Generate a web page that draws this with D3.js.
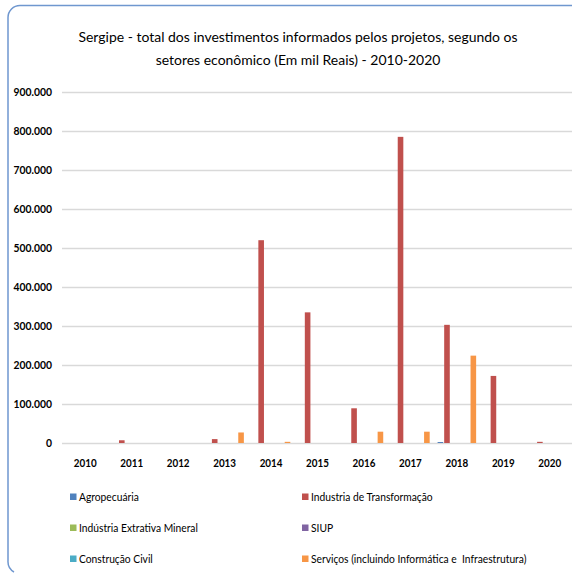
<!DOCTYPE html>
<html>
<head>
<meta charset="utf-8">
<script src="https://cdn.jsdelivr.net/npm/d3@7"></script>
<style>
  html, body { margin: 0; padding: 0; background: #fff; }
  svg { display: block; }
  text { font-family: Lato, "Liberation Sans", sans-serif; fill: #000; }
</style>
</head>
<body>
<svg id="chart" width="572" height="573"></svg>
<script>
// Years on the category axis
const years = ["2010","2011","2012","2013","2014","2015","2016","2017","2018","2019","2020"];

// Sector names (series), in legend order
const sectors = [
  "Agropecuária",
  "Industria de Transformação",
  "Indústria Extrativa Mineral",
  "SIUP",
  "Construção Civil",
  "Serviços (incluindo Informática e  Infraestrutura)"
];
const sectorColors = ["#4f81bd", "#c0504d", "#9bbb59", "#8064a2", "#4bacc6", "#f79646"];

// Investment totals per sector and year (thousand R$)
const agropecuaria    = [0, 0, 0, 0, 0, 0, 0, 0, 2500, 0, 0];
const industriaTransf = [0, 7000, 0, 10000, 520000, 335000, 89000, 785000, 303000, 172000, 3000];
const extrativa       = [0, 0, 0, 0, 0, 0, 0, 0, 0, 0, 0];
const siup            = [0, 0, 0, 0, 0, 0, 0, 0, 0, 0, 0];
const construcao      = [0, 0, 0, 0, 0, 0, 0, 0, 0, 0, 0];
const servicos        = [0, 0, 0, 27000, 3000, 0, 29000, 29000, 224000, 0, 0];

const seriesValues = [agropecuaria, industriaTransf, extrativa, siup, construcao, servicos];

// Value axis ticks
const yTicks = [0, 100000, 200000, 300000, 400000, 500000, 600000, 700000, 800000, 900000];

const svg = d3.select("#chart");

// Chart frame: top and left edges with rounded corners, open to the right and bottom
svg.append("path")
  .attr("d", "M572,5.5 H20 A12,12 0 0 0 8,17.5 V561 A12,12 0 0 0 14,572")
  .attr("fill", "none")
  .attr("stroke", "#6f97cf")
  .attr("stroke-width", 1.5);

// Title, two centred lines; the first line is sized to span 439px
const titleLines = [
  "Sergipe - total dos investimentos informados pelos projetos, segundo os",
  "setores econômico (Em mil Reais) - 2010-2020"
];
const title = svg.append("g");
const titleTexts = title.selectAll("text")
  .data(titleLines)
  .join("text")
  .attr("x", 298)
  .attr("y", (d, i) => 42 + i * 23)
  .attr("text-anchor", "middle")
  .style("font-size", "16px")
  .text(d => d);
const firstW = titleTexts.node().getComputedTextLength();
titleTexts.style("font-size", (16 * 439 / firstW).toFixed(2) + "px");

const plot = { left: 62, right: 573, top: 92, bottom: 443 };

const y = d3.scaleLinear().domain([0, 900000]).range([plot.bottom, plot.top]);
const x0 = d3.scaleBand().domain(years).range([plot.left, plot.right]).paddingInner(0).paddingOuter(0);
const x1 = d3.scaleBand().domain(d3.range(sectors.length))
  .range([0, x0.bandwidth()]).paddingInner(0.15).paddingOuter(0.6);

const fmt = v => v === 0 ? "0" : d3.format(",")(v).replace(/,/g, ".");

// Narrow the bold axis numerals a little
function narrow(sel, k) {
  sel.each(function () {
    const w = this.getComputedTextLength();
    d3.select(this).attr("textLength", w * k).attr("lengthAdjust", "spacingAndGlyphs");
  });
}

// Horizontal gridlines and value labels
const yAxis = d3.axisLeft(y).tickValues(yTicks).tickSize(-(plot.right - plot.left)).tickFormat(fmt).tickPadding(10);
const yg = svg.append("g").attr("transform", `translate(${plot.left},0)`).call(yAxis);
yg.select(".domain").remove();
yg.selectAll(".tick line").attr("stroke", "#d9d9d9").attr("stroke-width", 1.5);
yg.selectAll(".tick text").style("font-size", "12px").style("font-weight", "bold")
  .style("font-family", "Lato, sans-serif").attr("fill", "#000").call(narrow, 0.86);

// Bars
const groups = svg.append("g").selectAll("g")
  .data(years)
  .join("g")
  .attr("transform", d => `translate(${x0(d)},0)`);

groups.selectAll("rect")
  .data((yr, i) => seriesValues.map((vals, s) => ({ s, v: vals[i] })).filter(d => d.v > 0))
  .join("rect")
  .attr("x", d => x1(d.s))
  .attr("width", x1.bandwidth())
  .attr("y", d => y(d.v))
  .attr("height", d => y(0) - y(d.v))
  .attr("fill", d => sectorColors[d.s]);

// Category axis labels
const xAxis = d3.axisBottom(x0).tickSize(0).tickPadding(15);
const xg = svg.append("g").attr("transform", `translate(0,${plot.bottom})`).call(xAxis);
xg.select(".domain").remove();
xg.selectAll(".tick text").style("font-size", "12px").style("font-weight", "bold")
  .style("font-family", "Lato, sans-serif").attr("fill", "#000").call(narrow, 0.82);

// Legend, two columns by three rows
const legend = svg.append("g");
const legendItems = legend.selectAll("g")
  .data(sectors)
  .join("g")
  .attr("transform", (d, i) => `translate(${i % 2 === 0 ? 70 : 302},${497 + Math.floor(i / 2) * 31})`);
legendItems.append("rect")
  .attr("x", 0).attr("y", -3.5).attr("width", 6.5).attr("height", 6.5)
  .attr("fill", (d, i) => sectorColors[i]);
legendItems.append("text")
  .attr("x", 9).attr("y", 0).attr("dy", "0.35em")
  .style("font-size", "10.8px")
  .style("white-space", "pre")
  .text(d => d)
  .call(narrow, 0.95);
</script>
</body>
</html>
